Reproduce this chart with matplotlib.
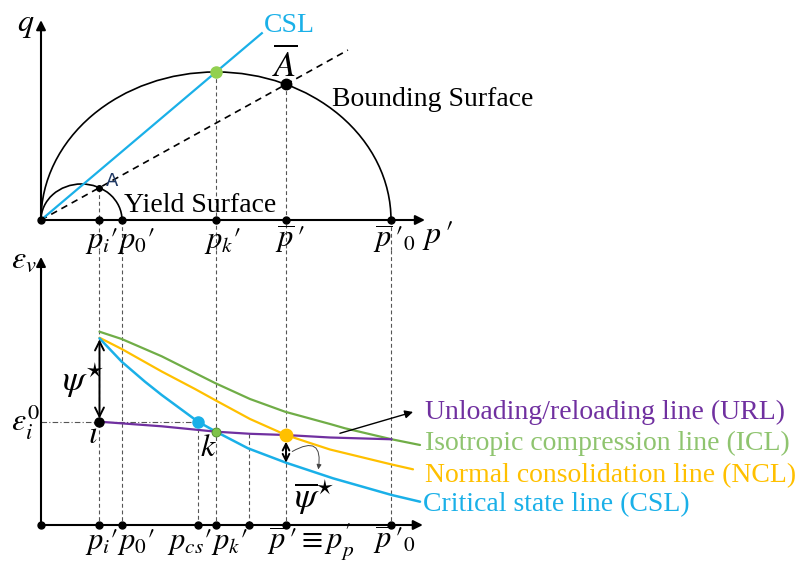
import matplotlib
matplotlib.use('Agg')
import matplotlib.pyplot as plt
import numpy as np
from matplotlib.patches import Arc, FancyArrowPatch

plt.rcParams['font.family'] = ['Liberation Serif', 'DejaVu Serif']
plt.rcParams['mathtext.fontset'] = 'stix'

# ---------------- schematic data (arbitrary units) ----------------
# characteristic mean effective stresses
p_i, p_0, p_cs, p_k, p_x, p_bar, p_bar0 = 16.71, 23.14, 44.86, 50.0, 59.43, 70.0, 100.0
yield_qmax = 10.29      # height of yield surface
bound_qmax = 42.29      # height of bounding surface
csl_end = 63.1          # extent of CSL line in q-p'
dash_end = 87.7         # extent of radial mapping line

# e_v - p' curves
icl_p = [16.71, 23.06, 34.49, 49.71, 59.71, 69.71, 82.57, 86.86, 100.2, 108.29]
icl_e = [55.23, 53.14, 48.20, 40.57, 36.00, 32.37, 28.86, 27.63, 24.49, 22.86]
ncl_p = [16.71, 23.06, 34.49, 44.00, 49.71, 59.71, 70.0, 76.86, 82.57, 100.2, 106.29]
ncl_e = [53.51, 50.29, 43.86, 38.86, 35.71, 30.29, 25.71, 23.43, 21.57, 17.29, 15.91]
csl_p = [16.71, 23.06, 29.71, 34.49, 44.86, 50.0, 59.14, 70.0, 83.43, 100.2, 108.29]
csl_e = [53.34, 46.66, 40.94, 37.14, 29.51, 26.66, 21.91, 17.80, 13.34, 8.57, 6.66]
url_p = [16.71, 34.49, 50.0, 59.71, 70.0, 82.57, 100.2]
url_e = [29.51, 28.20, 26.66, 26.06, 25.71, 25.00, 24.49]

e_i0 = 29.51        # initial volumetric strain at i
e_k = 26.66         # state k
e_bar = 25.71       # state at p_bar
e_csl_bar = 17.80   # CSL at p_bar
e_x = 25.9          # start of dashed line at p_x

top_ticks = [0, p_i, p_0, p_k, p_bar, p_bar0]
bot_ticks = [0, p_i, p_0, p_cs, p_k, p_x, p_bar, p_bar0]

# ---------------- colours ----------------
C_BLUE = '#1ab0e8'
C_GREEN = '#70ad47'
C_GREEN_T = '#8fc46f'
C_YEL = '#ffc000'
C_PUR = '#7030a0'
C_DASH = '#555555'

W, H = 804, 564
fig = plt.figure(figsize=(W / 100, H / 100), dpi=100)

S = 3.5  # px per unit
X0 = 41
xl = (-X0 / S, (W - X0) / S)

# top axes: pixel rows 0..250, q=0 at 220
axT = fig.add_axes([0, (H - 250) / H, 1, 250 / H])
axT.set_xlim(*xl)
axT.set_ylim(-(250 - 220) / S, 220 / S)
axT.axis('off')
# bottom axes: pixel rows 250..564, e=0 at 525
axB = fig.add_axes([0, 0, 1, 314 / H])
axB.set_xlim(*xl)
axB.set_ylim(-(H - 525) / S, (525 - 250) / S)
axB.axis('off')

def txt(x, y, s, **kw):
    kw.setdefault('va', 'baseline')
    kw.setdefault('ha', 'left')
    fig.text(x / W, 1 - y / H, s, **kw)

dash_kw = dict(color=C_DASH, lw=0.8, ls=(0, (3.5, 2.5)), zorder=1, clip_on=False)
arr_kw = dict(arrowstyle='-|>', lw=1.5, color='k', mutation_scale=14, shrinkA=0, shrinkB=0)

# ---------------- TOP PANEL ----------------
ax = axT
ax.annotate('', xy=(109.7, 0), xytext=(0, 0), arrowprops=arr_kw, annotation_clip=False)
ax.annotate('', xy=(0, 57.1), xytext=(0, 0), arrowprops=arr_kw, annotation_clip=False)

# surfaces
ax.add_patch(Arc((p_bar0 / 2, 0), p_bar0, 2 * bound_qmax, theta1=0, theta2=180,
                 lw=1.2, color='k', zorder=3))
ax.add_patch(Arc((p_0 / 2, 0), p_0, 2 * yield_qmax, theta1=0, theta2=180,
                 lw=1.2, color='k', zorder=3))

M = bound_qmax / (p_bar0 / 2)
ax.plot([0, csl_end], [0, M * csl_end], color=C_BLUE, lw=1.6, zorder=4)

q_bar = bound_qmax * np.sqrt(1 - ((p_bar - p_bar0 / 2) / (p_bar0 / 2)) ** 2)
eta = q_bar / p_bar
ax.plot([0, dash_end], [0, eta * dash_end], color='k', lw=1.2, ls=(0, (4, 3)), zorder=3)
q_A = yield_qmax * np.sqrt(1 - ((p_i - p_0 / 2) / (p_0 / 2)) ** 2)

# vertical guides
ylo = ax.get_ylim()[0]
for pv, qv in [(p_i, q_A), (p_0, 0), (p_k, bound_qmax), (p_bar, q_bar), (p_bar0, 0)]:
    ax.plot([pv, pv], [qv, ylo], **dash_kw)

ax.plot(top_ticks, [0] * len(top_ticks), 'o', color='k', ms=5, zorder=6, clip_on=False)
ax.plot([p_k], [bound_qmax], 'o', color='#92d050', ms=8, zorder=6)
ax.plot([p_bar], [q_bar], 'o', color='k', ms=7.5, zorder=6)
ax.plot([p_i], [q_A], 'o', color='k', ms=4, zorder=6)

# ---------------- BOTTOM PANEL ----------------
ax = axB
ax.annotate('', xy=(109.1, 0), xytext=(0, 0), arrowprops=arr_kw, annotation_clip=False)
ax.annotate('', xy=(0, 76.6), xytext=(0, 0), arrowprops=arr_kw, annotation_clip=False)

yhi = ax.get_ylim()[1]
for pv in [p_i, p_0, p_k, p_bar, p_bar0]:
    ax.plot([pv, pv], [yhi, 0], **dash_kw)
ax.plot([p_cs, p_cs], [e_i0, 0], **dash_kw)
ax.plot([p_x, p_x], [e_x, 0], **dash_kw)
ax.plot([0, p_cs], [e_i0, e_i0], color=C_DASH, lw=0.8, ls=(0, (5, 2, 1, 2)), zorder=1)

ax.plot(icl_p, icl_e, color=C_GREEN, lw=1.6, zorder=3, solid_capstyle='round')
ax.plot(ncl_p, ncl_e, color=C_YEL, lw=1.6, zorder=3, solid_capstyle='round')
ax.plot(csl_p, csl_e, color=C_BLUE, lw=1.8, zorder=3, solid_capstyle='round')
ax.plot(url_p, url_e, color=C_PUR, lw=1.6, zorder=4, solid_capstyle='round')

ax.plot(bot_ticks, [0] * len(bot_ticks), 'o', color='k', ms=5, zorder=6, clip_on=False)
ax.plot([p_i], [e_i0], 'o', color='k', ms=6.5, zorder=6)
ax.plot([p_cs], [e_i0], 'o', color=C_BLUE, ms=8, zorder=6)
ax.plot([p_k], [e_k], 'o', color='#7fc24a', ms=6.5, mec='#4f8a2a', mew=0.6, zorder=6)
ax.plot([p_bar], [e_bar], 'o', color=C_YEL, ms=9, zorder=6)

# psi* arrow
ax.annotate('', xy=(p_i, e_i0 + 0.9), xytext=(p_i, csl_e[0] - 0.3),
            arrowprops=dict(arrowstyle='<->', lw=1.4, color='k', mutation_scale=16,
                            shrinkA=0, shrinkB=0))
# psi_bar* arrow
ax.annotate('', xy=(p_bar, e_csl_bar), xytext=(p_bar, e_bar - 1.9),
            arrowprops=dict(arrowstyle='<->', lw=1.4, color='k', mutation_scale=12,
                            shrinkA=0, shrinkB=0))
ax.add_patch(FancyArrowPatch((71.1, 20.6), (79.1, 15.1), connectionstyle='arc3,rad=-1.1',
                             arrowstyle='-|>', mutation_scale=7, lw=0.7, color='#444444', zorder=5))
# pointer to URL label
ax.annotate('', xy=(106.3, 32.3), xytext=(85.4, 26.2),
            arrowprops=dict(arrowstyle='-|>', lw=1.0, color='k', mutation_scale=12,
                            shrinkA=0, shrinkB=0), annotation_clip=False)

# ---------------- TEXT ----------------
FS = 20
MS = 22
txt(17, 31, r'$q$', fontsize=23)
txt(264, 32, 'CSL', fontsize=FS, color=C_BLUE)
txt(272, 77, r'$\overline{A}$', fontsize=26)
txt(332, 106, 'Bounding Surface', fontsize=FS)
txt(106, 186, 'A', fontsize=13, color='#1f3864', family='DejaVu Sans')
txt(124, 212, 'Yield Surface', fontsize=FS)

txt(85, 248, r"$p_{i}{\prime}$", fontsize=MS)
txt(117, 248, r"$p_{0}{\prime}$", fontsize=MS)
txt(204, 248, r"$p_{k}{\prime}$", fontsize=MS)
txt(275, 248, r"$\overline{p}\,{\prime}$", fontsize=MS)
txt(373, 248, r"$\overline{p}\,{\prime}_{0}$", fontsize=MS)
txt(422, 243, r"$p\,{\prime}$", fontsize=23)

txt(11, 268, r'$\varepsilon_v$', fontsize=23)
txt(11, 431, r'$\varepsilon_i^0$', fontsize=23)
txt(62, 391, r'$\psi^{\star}$', fontsize=26)
txt(88, 443, r'$i$', fontsize=23)
txt(200, 456, r'$k$', fontsize=23)
txt(294, 508, r'$\overline{\psi}^{\star}$', fontsize=26)

txt(85, 549, r"$p_{i}{\prime}$", fontsize=MS)
txt(117, 549, r"$p_{0}{\prime}$", fontsize=MS)
txt(167, 549, r"$p_{cs}{\prime}$", fontsize=MS)
txt(211, 549, r"$p_{k}{\prime}$", fontsize=MS)
txt(267, 549, r"$\overline{p}\,{\prime}\equiv p^{\prime}_{p}$", fontsize=MS)
txt(373, 549, r"$\overline{p}\,{\prime}_{0}$", fontsize=MS)

txt(425, 419, 'Unloading/reloading line (URL)', fontsize=FS, color=C_PUR)
txt(425, 450, 'Isotropic compression line (ICL)', fontsize=FS, color=C_GREEN_T)
txt(425, 482, 'Normal consolidation line (NCL)', fontsize=FS, color=C_YEL)
txt(423, 511, 'Critical state line (CSL)', fontsize=FS, color=C_BLUE)

fig.savefig('out.png', dpi=100)
